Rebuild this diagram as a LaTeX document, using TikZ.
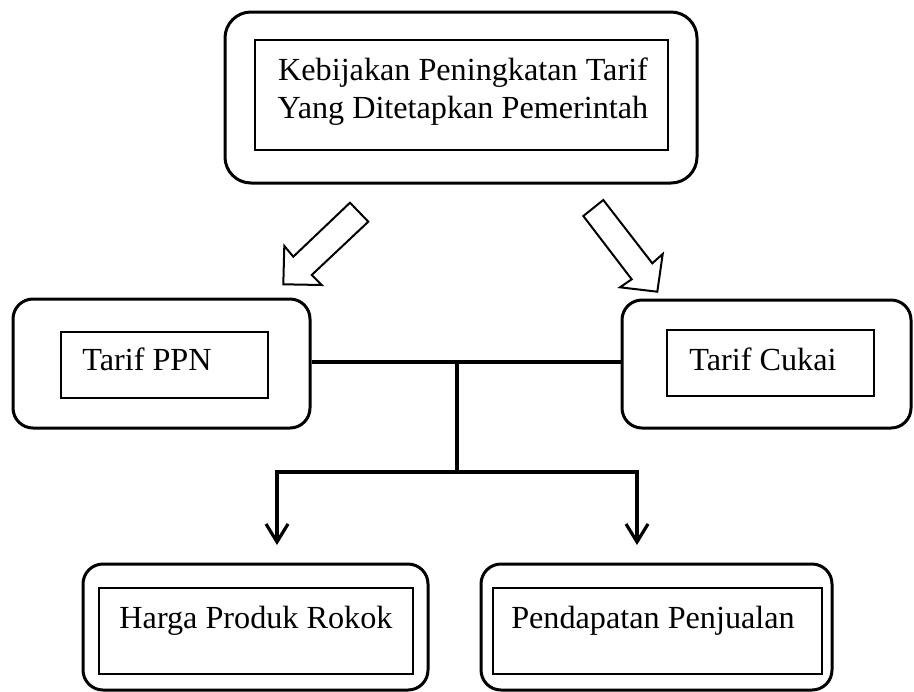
\documentclass[tikz,border=0pt]{standalone}
\usepackage{fontspec}
\setmainfont{Liberation Serif}
\usetikzlibrary{arrows.meta}

\begin{document}
\begin{tikzpicture}[x=0.5pt,y=-0.5pt,
    outerbox/.style={draw,line width=1.5pt,rounded corners=10pt,inner sep=0pt},
    innerbox/.style={draw,line width=0.7pt,inner sep=0pt},
    boxtext/.style={inner sep=0pt,font=\fontsize{16.1}{19}\selectfont},
    link/.style={line width=1.6pt},
    blockarrow/.style={draw,line width=1pt,line join=miter}]
  \useasboundingbox (0,0) rectangle (914,691);
  % Top box
  \node[outerbox,rounded corners=13pt,minimum width=236pt,minimum height=85.5pt] (kebijakan) at (461,97.5) {};
  \node[innerbox,minimum width=206.5pt,minimum height=55pt] (kebijakan-in) at (461.5,95) {};
  \node[boxtext,align=center] (kebijakan-txt) at (463,92) {Kebijakan Peningkatan Tarif\\Yang Ditetapkan Pemerintah};
  % Middle boxes
  \node[outerbox,minimum width=148.5pt,minimum height=64.5pt] (ppn) at (161.5,363.5) {};
  \node[innerbox,minimum width=103.5pt,minimum height=33pt] (ppn-in) at (164.5,365) {};
  \node[boxtext,anchor=base west] (ppn-txt) at (82,370) {Tarif PPN};
  \node[outerbox,minimum width=144.5pt,minimum height=64pt] (cukai) at (766.5,364) {};
  \node[innerbox,minimum width=103.5pt,minimum height=33pt] (cukai-in) at (770.5,363) {};
  \node[boxtext,anchor=base west] (cukai-txt) at (689,370) {Tarif Cukai};
  % Bottom boxes
  \node[outerbox,minimum width=172.5pt,minimum height=63pt] (harga) at (255.5,627) {};
  \node[innerbox,minimum width=157pt,minimum height=43pt] (harga-in) at (256,631) {};
  \node[boxtext,anchor=base] (harga-txt) at (256,628) {Harga Produk Rokok};
  \node[outerbox,minimum width=175.5pt,minimum height=63pt] (pendapatan) at (656.5,627) {};
  \node[innerbox,minimum width=164.5pt,minimum height=43pt] (pendapatan-in) at (657.5,631) {};
  \node[boxtext,anchor=base] (pendapatan-txt) at (653,628) {Pendapatan Penjualan};
  % Block arrows from the top box
  \draw[blockarrow] (350,202.7) -- (368.3,221.7) -- (311.7,275) -- (321.7,285)
    -- (283.3,284.3) -- (284.3,246) -- (293.3,256.7) -- cycle;
  \draw[blockarrow] (603.3,200) -- (583.3,216) -- (631.7,279.3) -- (620,287.3)
    -- (657.3,291.7) -- (662.7,254) -- (652.3,263.3) -- cycle;
  % Connectors
  \coordinate (top-j) at (457,362);
  \coordinate (low-j) at (457,472);
  \coordinate (harga-end) at (277,545);
  \coordinate (pendapatan-end) at (637,545);
  \draw[link] (ppn.east |- top-j) -- (cukai.west |- top-j);
  \draw[link] (top-j) -- (low-j);
  \draw[link,-{Straight Barb[length=9pt,width=11pt]}] (low-j) -| (harga-end);
  \draw[link,-{Straight Barb[length=9pt,width=11pt]}] (low-j) -| (pendapatan-end);
\end{tikzpicture}
\end{document}
